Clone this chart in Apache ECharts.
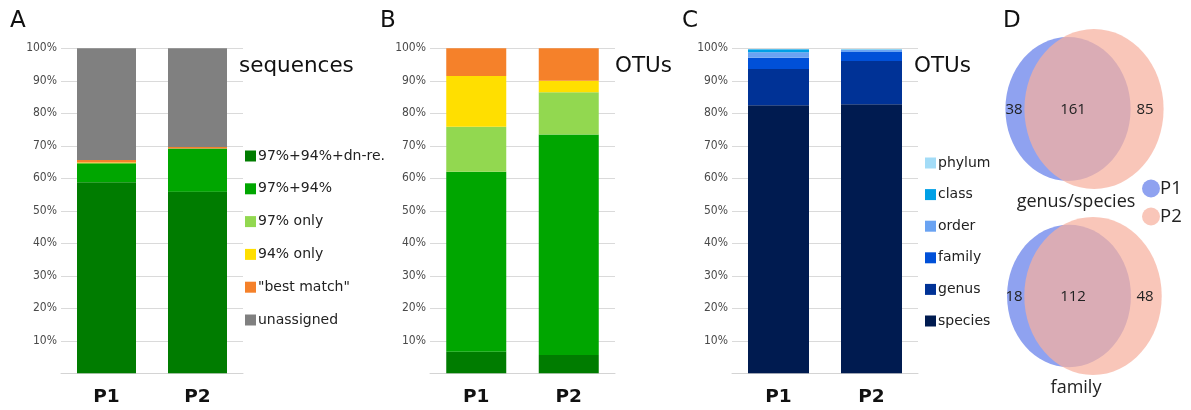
<!DOCTYPE html>
<html>
<head>
<meta charset="utf-8">
<script src="https://cdn.jsdelivr.net/npm/echarts@6/dist/echarts.min.js"></script>
<style>
html,body{margin:0;padding:0;background:#fff;}
#chart{width:1191px;height:410px;}
</style>
</head>
<body>
<div id="chart"></div>
<script>
// ---------- DATA ----------
var categories = ['P1', 'P2'];
var yTicks = [10, 20, 30, 40, 50, 60, 70, 80, 90, 100];

// Panel A: sequences (%)
var assignNames = ['97%+94%+dn-re.', '97%+94%', '97% only', '94% only', '"best match"', 'unassigned'];
var seqDnRe       = [58.8, 55.9];
var seq9794       = [5.8, 13.3];
var seq97only     = [0.0, 0.0];
var seq94only     = [0.3, 0.0];
var seqBestMatch  = [0.7, 0.4];
var seqUnassigned = [34.4, 30.4];

// Panel B: OTUs (%)
var otuDnRe      = [6.6, 5.6];
var otu9794      = [55.4, 67.9];
var otu97only    = [13.9, 13.0];
var otu94only    = [15.6, 3.5];
var otuBestMatch = [8.5, 10.0];

// Panel C: OTUs by taxonomic level (%)
var taxNames  = ['phylum', 'class', 'order', 'family', 'genus', 'species'];
var taxSpecies = [82.5, 82.8];
var taxGenus   = [11.1, 13.3];
var taxFamily  = [3.5, 2.8];
var taxOrder   = [1.7, 0.6];
var taxClass   = [0.9, 0.1];
var taxPhylum  = [0.1, 0.2];

// Panel D: Venn counts [only P1, shared, only P2]
var vennTitles = ['genus/species', 'family'];
var vennGenusSpecies = [38, 161, 85];
var vennFamily       = [18, 112, 48];

// ---------- STYLE ----------
var assignColors = ['#007c00', '#00a600', '#92d850', '#ffdf00', '#f5812a', '#808080'];
var taxColors = {phylum:'#a3dcf7', 'class':'#00a0e6', order:'#6aa3f2', family:'#0050d8', genus:'#003296', species:'#001b50'};
var p1Color = '#8fa2f0';
var p2Color = 'rgba(247,176,158,0.72)';
var FONT = 'DejaVu Sans';
var TICKFONT = '"DejaVu Sans Condensed", "DejaVu Sans"';

var vennRows = [vennGenusSpecies, vennFamily];
// layout of each venn inside panel D (pixel-space axis of hidden grid)
var vennLayout = [
  {cy: 109, pinkCx: 1094, blueCx: 1068, ry: 80, titleY: 202},
  {cy: 296, pinkCx: 1093, blueCx: 1069, ry: 79, titleY: 388}
];
var aspect = 0.87;

function yAxisCfg(idx){
  return {
    type: 'value', gridIndex: idx, min: 0, max: 100, interval: 10,
    axisLine: {show: false}, axisTick: {show: false},
    splitLine: {lineStyle: {color: '#dadada', width: 1}},
    axisLabel: {margin: 4, color: '#4a4a4a', fontSize: 12, fontFamily: TICKFONT,
      formatter: function(v){ return yTicks.indexOf(v) >= 0 ? v + '%' : ''; }}
  };
}
function xAxisCfg(idx){
  return {
    type: 'category', gridIndex: idx, data: categories,
    axisLine: {lineStyle: {color: '#d4d4d4', width: 1}},
    axisTick: {show: false},
    axisLabel: {margin: 14, color: '#111', fontSize: 18.5, fontWeight: 'bold', fontFamily: FONT}
  };
}
function bar(name, data, axis, stack, color, width){
  return {name: name, type: 'bar', stack: stack, xAxisIndex: axis, yAxisIndex: axis,
    data: data, barWidth: width, itemStyle: {color: color}, emphasis: {disabled: true}};
}

var seqSeries = [seqDnRe, seq9794, seq97only, seq94only, seqBestMatch, seqUnassigned];
var otuSeries = [otuDnRe, otu9794, otu97only, otu94only, otuBestMatch];
var taxStack = [['species', taxSpecies], ['genus', taxGenus], ['family', taxFamily],
                ['order', taxOrder], ['class', taxClass], ['phylum', taxPhylum]];

var series = [];
seqSeries.forEach(function(d, i){ series.push(bar(assignNames[i], d, 0, 'A', assignColors[i], 59)); });
otuSeries.forEach(function(d, i){ series.push(bar(assignNames[i], d, 1, 'B', assignColors[i], 60)); });
taxStack.forEach(function(t){ series.push(bar(t[0], t[1], 2, 'C', taxColors[t[0]], 61)); });

// Venn circles
function vennCircle(which){
  return {
    name: which === 0 ? 'P1' : 'P2', type: 'custom', xAxisIndex: 3, yAxisIndex: 3,
    itemStyle: {color: which === 0 ? p1Color : p2Color},
    z: which === 0 ? 2 : 3, silent: true, clip: false,
    data: vennRows.map(function(r, i){ return [i, which === 0 ? r[0] + r[1] : r[1] + r[2], r[1] + r[2]]; }),
    renderItem: function(params, api){
      var i = api.value(0);
      var L = vennLayout[i];
      var ry = L.ry * Math.sqrt(api.value(1) / api.value(2));
      var c = api.coord([which === 0 ? L.blueCx : L.pinkCx, L.cy]);
      var s = api.size([ry * aspect, ry]);
      return {type: 'ellipse', shape: {cx: c[0], cy: c[1], rx: s[0], ry: s[1]},
              style: {fill: api.visual('color')}};
    }
  };
}
series.push(vennCircle(0));
series.push(vennCircle(1));
series.push({
  name: 'counts', type: 'custom', xAxisIndex: 3, yAxisIndex: 3, z: 5, silent: true, clip: false,
  data: vennRows.map(function(r, i){ return [i, r[0], r[1], r[2]]; }),
  renderItem: function(params, api){
    var i = api.value(0);
    var L = vennLayout[i];
    var xs = [1014, 1073, 1145];
    var children = [];
    for (var k = 0; k < 3; k++){
      var p = api.coord([xs[k], L.cy + 1]);
      children.push({type: 'text', style: {text: String(api.value(k + 1)), x: p[0], y: p[1],
        align: 'center', verticalAlign: 'middle', fill: '#222', fontSize: 15, fontFamily: 'Open Sans'}});
    }
    var t = api.coord([1076, L.titleY]);
    children.push({type: 'text', style: {text: vennTitles[i], x: t[0], y: t[1],
      align: 'center', verticalAlign: 'middle', fill: '#222', fontSize: 18, fontFamily: 'Open Sans'}});
    return {type: 'group', children: children};
  }
});

function letter(txt, left, top, size){
  return {text: txt, left: left, top: top, padding: 0,
    textStyle: {fontSize: size, fontWeight: 'normal', color: '#111', fontFamily: FONT}};
}

var option = {
  animation: false,
  backgroundColor: '#fff',
  title: [
    letter('A', 10, 10, 23), letter('B', 380, 10, 23), letter('C', 682, 10, 23), letter('D', 1003, 10, 23),
    letter('sequences', 239, 55, 21.5), letter('OTUs', 615, 55, 21.5), letter('OTUs', 914, 55, 21.5)
  ],
  grid: [
    {left: 61, top: 48.3, width: 182, height: 325},
    {left: 430, top: 48.3, width: 185, height: 325},
    {left: 732, top: 48.3, width: 186, height: 325},
    {left: 0, top: 0, width: 1191, height: 410}
  ],
  xAxis: [xAxisCfg(0), xAxisCfg(1), xAxisCfg(2),
    {type: 'value', gridIndex: 3, min: 0, max: 1191, show: false}],
  yAxis: [yAxisCfg(0), yAxisCfg(1), yAxisCfg(2),
    {type: 'value', gridIndex: 3, min: 0, max: 410, inverse: true, show: false}],
  legend: [
    {data: assignNames, orient: 'vertical', left: 245, top: 149, itemWidth: 11, itemHeight: 11,
     itemGap: 18.8, icon: 'rect', selectedMode: false, padding: 0,
     textStyle: {fontSize: 14, lineHeight: 14, color: '#222', fontFamily: FONT, padding: [0,0,0,-3]}},
    {data: taxNames, orient: 'vertical', left: 925, top: 156, itemWidth: 11, itemHeight: 11,
     itemGap: 17.6, icon: 'rect', selectedMode: false, padding: 0,
     textStyle: {fontSize: 14, lineHeight: 14, color: '#222', fontFamily: FONT, padding: [0,0,0,-3]}},
    {data: ['P1', 'P2'], orient: 'vertical', left: 1142, top: 179, itemWidth: 18, itemHeight: 18,
     itemGap: 9, icon: 'circle', selectedMode: false, padding: 0,
     textStyle: {fontSize: 18.5, lineHeight: 18, color: '#222', fontFamily: 'Open Sans', padding: [0,0,0,-5]}}
  ],
  series: series
};

var chart = echarts.init(document.getElementById('chart'), null, {renderer: 'canvas'});
chart.setOption(option);
</script>
</body>
</html>
